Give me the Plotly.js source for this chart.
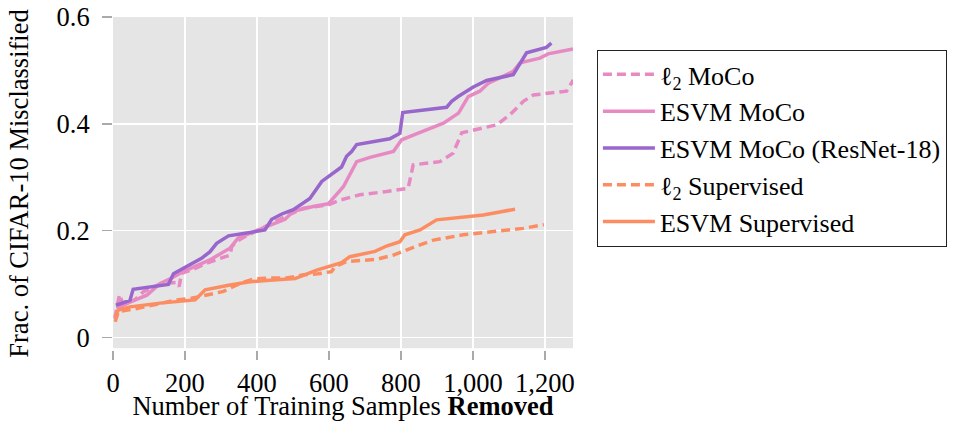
<!DOCTYPE html>
<html>
<head>
<meta charset="utf-8">
<script src="https://cdn.plot.ly/plotly-3.0.1.min.js"></script>
<style>html,body{margin:0;padding:0;background:#fff;}#chart{width:968px;height:421px;}</style>
</head>
<body>
<div id="chart"></div>
<script>
// ---- data ----
const seriesNames = ['ℓ<sub>2</sub> MoCo', 'ESVM MoCo', 'ESVM MoCo (ResNet-18)', 'ℓ<sub>2</sub> Supervised', 'ESVM Supervised'];

const l2MocoX = [5, 18, 28, 60, 84, 131, 176, 184, 190, 218, 260, 297, 325, 330, 343, 362, 400, 460, 529, 598, 631, 686, 760, 820, 834, 908, 945, 969, 1066, 1103, 1140, 1168, 1260, 1279];
const l2MocoY = [0.035, 0.08, 0.062, 0.07, 0.085, 0.1, 0.103, 0.095, 0.12, 0.126, 0.139, 0.147, 0.154, 0.17, 0.179, 0.187, 0.2, 0.22, 0.242, 0.248, 0.257, 0.267, 0.273, 0.279, 0.323, 0.329, 0.345, 0.383, 0.398, 0.417, 0.442, 0.454, 0.461, 0.482];

const esvmMocoX = [10, 47, 94, 131, 163, 195, 269, 325, 348, 381, 427, 478, 501, 556, 598, 640, 677, 714, 779, 802, 862, 918, 960, 987, 1019, 1043, 1112, 1131, 1186, 1209, 1278];
const esvmMocoY = [0.054, 0.066, 0.079, 0.101, 0.111, 0.123, 0.145, 0.167, 0.186, 0.195, 0.207, 0.221, 0.236, 0.245, 0.25, 0.282, 0.329, 0.337, 0.348, 0.37, 0.386, 0.401, 0.42, 0.451, 0.461, 0.476, 0.498, 0.514, 0.523, 0.531, 0.54];

const esvmResX = [8, 47, 56, 154, 168, 205, 246, 269, 288, 321, 367, 408, 422, 441, 469, 501, 547, 580, 635, 649, 663, 677, 769, 797, 805, 927, 941, 959, 1001, 1038, 1112, 1149, 1204, 1218];
const esvmResY = [0.06, 0.069, 0.09, 0.099, 0.119, 0.132, 0.148, 0.16, 0.176, 0.19, 0.195, 0.199, 0.201, 0.221, 0.231, 0.239, 0.26, 0.292, 0.319, 0.339, 0.348, 0.361, 0.372, 0.382, 0.421, 0.431, 0.442, 0.451, 0.469, 0.481, 0.492, 0.533, 0.543, 0.551];

const l2SupX = [6, 15, 66, 112, 177, 218, 260, 307, 353, 390, 436, 482, 529, 570, 607, 617, 649, 732, 779, 816, 853, 890, 973, 1057, 1140, 1197];
const l2SupY = [0.029, 0.048, 0.054, 0.061, 0.07, 0.073, 0.079, 0.086, 0.101, 0.109, 0.111, 0.111, 0.117, 0.119, 0.123, 0.132, 0.142, 0.146, 0.154, 0.164, 0.173, 0.182, 0.192, 0.198, 0.204, 0.211];

const esvmSupX = [6, 15, 47, 131, 228, 256, 325, 381, 436, 506, 566, 635, 658, 728, 760, 797, 811, 853, 899, 1029, 1117];
const esvmSupY = [0.039, 0.051, 0.057, 0.064, 0.07, 0.089, 0.098, 0.104, 0.107, 0.11, 0.126, 0.14, 0.151, 0.161, 0.171, 0.179, 0.192, 0.201, 0.22, 0.229, 0.24];

const xTickVals = [0, 200, 400, 600, 800, 1000, 1200];
const xTickText = ['0', '200', '400', '600', '800', '1,000', '1,200'];
const yTickVals = [0, 0.2, 0.4, 0.6];
const yTickText = ['0', '0.2', '0.4', '0.6'];

// ---- styling ----
const PINK = '#e78ac3', PURPLE = '#9966cc', ORANGE = '#fc8d62';
const FONT = 'Liberation Serif, Times New Roman, serif';
const FS = 26.5;
const DASH = '9px,5px';

function tr(x, y, name, color, dash) {
  return {x: x, y: y, name: name, type: 'scatter', mode: 'lines',
          line: {color: color, width: 3.5, dash: dash}};
}

const data = [
  tr(l2MocoX, l2MocoY, seriesNames[0], PINK, DASH),
  tr(esvmMocoX, esvmMocoY, seriesNames[1], PINK, 'solid'),
  tr(esvmResX, esvmResY, seriesNames[2], PURPLE, 'solid'),
  tr(l2SupX, l2SupY, seriesNames[3], ORANGE, DASH),
  tr(esvmSupX, esvmSupY, seriesNames[4], ORANGE, 'solid')
];

const layout = {
  width: 968, height: 421,
  margin: {l: 113, r: 395, t: 17, b: 71},
  paper_bgcolor: '#ffffff',
  plot_bgcolor: '#ffffff',
  font: {family: FONT, size: FS, color: '#000'},
  showlegend: true,
  legend: {
    x: 1.052, xanchor: 'left', y: 0.901, yanchor: 'top',
    bgcolor: '#ffffff', bordercolor: '#222', borderwidth: 1,
    font: {family: FONT, size: 26, color: '#000'},
    traceorder: 'normal', tracegroupgap: 0, itemwidth: 52
  },
  xaxis: {
    range: [0, 1278], tickvals: xTickVals, ticktext: xTickText,
    showgrid: true, gridcolor: '#ffffff', gridwidth: 1.5, zeroline: false,
    showline: false, ticks: 'outside', ticklen: 9, tickcolor: '#aaaaaa', tickwidth: 1.5,
    tickfont: {family: FONT, size: FS}, ticklabelstandoff: 0,
    title: {text: 'Number of Training Samples <b>Removed</b>', font: {family: FONT, size: FS}, standoff: 7}
  },
  yaxis: {
    range: [-0.0238, 0.6], tickvals: yTickVals, ticktext: yTickText,
    showgrid: true, gridcolor: '#ffffff', gridwidth: 1.5, zeroline: false,
    showline: false, ticks: 'outside', ticklen: 10, tickcolor: '#aaaaaa', tickwidth: 1.5,
    tickfont: {family: FONT, size: FS}, ticklabelstandoff: 7,
    title: {text: 'Frac. of CIFAR-10 Misclassified', font: {family: FONT, size: FS}, standoff: 20}
  },
  shapes: [{
    type: 'rect', layer: 'below', xref: 'x', yref: 'y',
    x0: 0, x1: 1278, y0: -0.0206, y1: 0.6,
    fillcolor: '#e5e5e5', line: {width: 0}
  }]
};

Plotly.newPlot('chart', data, layout, {staticPlot: true, displayModeBar: false});
</script>
</body>
</html>
